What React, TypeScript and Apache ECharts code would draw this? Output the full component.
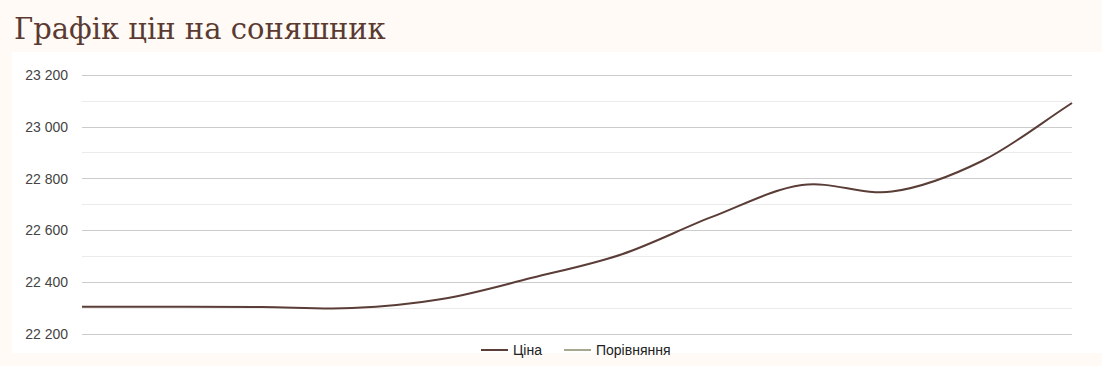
import React, { useEffect, useRef } from "react";
import * as echarts from "echarts";

const categories = ["1", "2", "3", "4", "5", "6", "7", "8", "9", "10", "11", "12"];
const priceValues = [22305, 22305, 22304, 22300, 22335, 22417, 22508, 22652, 22775, 22750, 22868, 23092];
const compareValues: number[] = [];
const seriesNames = ["Ціна", "Порівняння"];
const titleText = "Графік цін на соняшник";

const fmt = (v: number) => String(v).replace(/\B(?=(\d{3})+(?!\d))/g, " ");

function splinePath(pts: number[][]): string {
  const n = pts.length;
  if (n < 2) return "";
  const m = pts.map((p, i) => {
    if (i === 0) return [pts[1][0] - p[0], pts[1][1] - p[1]];
    if (i === n - 1) return [p[0] - pts[i - 1][0], p[1] - pts[i - 1][1]];
    return [(pts[i + 1][0] - pts[i - 1][0]) / 2, (pts[i + 1][1] - pts[i - 1][1]) / 2];
  });
  let d = `M${pts[0][0]},${pts[0][1]}`;
  for (let i = 0; i < n - 1; i++) {
    const a = pts[i], b = pts[i + 1];
    const c1 = [a[0] + m[i][0] / 3, a[1] + m[i][1] / 3];
    const c2 = [b[0] - m[i + 1][0] / 3, b[1] - m[i + 1][1] / 3];
    d += `C${c1[0]},${c1[1]} ${c2[0]},${c2[1]} ${b[0]},${b[1]}`;
  }
  return d;
}

export default function App() {
  const ref = useRef<HTMLDivElement>(null);
  useEffect(() => {
    if (!ref.current) return;
    const chart = echarts.init(ref.current, null, { renderer: "svg" });
    chart.setOption({
      animation: false,
      backgroundColor: "#fffaf6",
      graphic: [
        { type: "rect", z: -10, shape: { x: 12, y: 52, width: 1090, height: 301 }, style: { fill: "#ffffff" } },
      ],
      title: {
        text: titleText,
        left: 9,
        top: 9,
        textStyle: { fontFamily: "DejaVu Serif", fontSize: 29, fontWeight: "normal", color: "#5a3a31" },
      },
      legend: {
        left: 476,
        top: 338,
        itemGap: 22,
        itemWidth: 27,
        itemHeight: 2,
        icon: "rect",
        textStyle: { fontFamily: "Liberation Sans, Arial", fontSize: 14, color: "#222222" },
        data: seriesNames,
      },
      grid: { left: 82, right: 30, top: 75, bottom: 32 },
      xAxis: {
        type: "category",
        data: categories,
        boundaryGap: false,
        show: false,
      },
      yAxis: {
        type: "value",
        min: 22200,
        max: 23200,
        interval: 100,
        axisLine: { show: false },
        axisTick: { show: false },
        axisLabel: {
          color: "#444444",
          fontFamily: "Liberation Sans, Arial",
          fontSize: 14,
          margin: 14,
          formatter: (v: number) => (v % 200 === 0 ? fmt(v) : ""),
        },
        splitLine: { lineStyle: { color: ["#cccccc", "#ebebeb"], width: 1 } },
      },
      series: [
        {
          name: seriesNames[0],
          type: "custom",
          data: priceValues.map((v, i) => [i, v]),
          itemStyle: { color: "#5a3d37" },
          encode: { x: 0, y: 1 },
          renderItem: (params: any, api: any) => {
            if (params.dataIndex !== 0) return null;
            const pts = priceValues.map((v, i) => api.coord([i, v]));
            return {
              type: "path",
              shape: { pathData: splinePath(pts) },
              style: { stroke: "#5a3d37", fill: "none", lineWidth: 2 },
            };
          },
        },
        {
          name: seriesNames[1],
          type: "line",
          data: compareValues,
          showSymbol: false,
          lineStyle: { color: "#a8a890", width: 2 },
          itemStyle: { color: "#a8a890" },
        },
      ],
    });
    return () => chart.dispose();
  }, []);
  return (
    <div style={{ position: "absolute", left: 0, top: 0, width: 1102, height: 366 }}>
      <div ref={ref} style={{ width: 1102, height: 366 }} />
    </div>
  );
}
